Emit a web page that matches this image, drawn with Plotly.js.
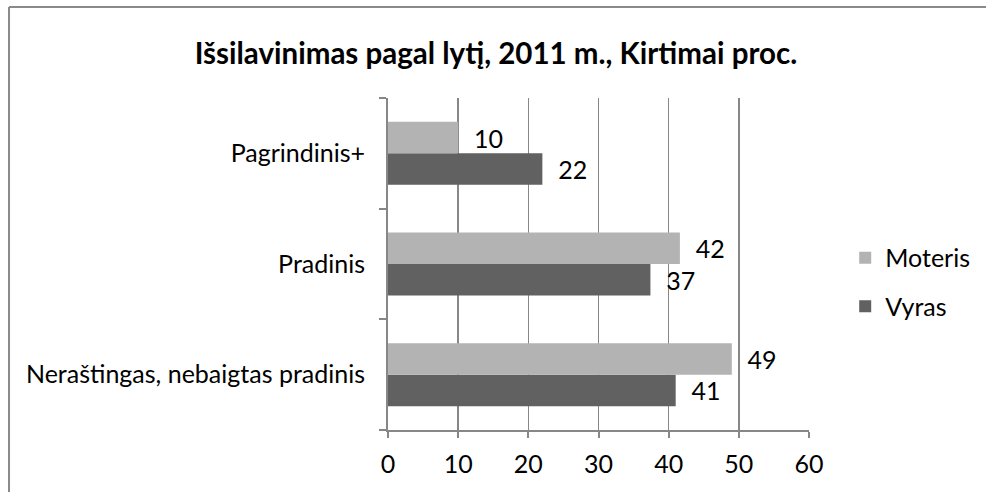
<!DOCTYPE html>
<html>
<head>
<meta charset="utf-8">
<script src="https://cdn.plot.ly/plotly-3.0.1.min.js"></script>
<style>
  html, body { margin: 0; padding: 0; background: #ffffff; overflow: hidden; }
  #chart { width: 986px; height: 492px; }
</style>
</head>
<body>
<div id="chart"></div>
<script>
// Data
var categories = ["Neraštingas, nebaigtas pradinis", "Pradinis", "Pagrindinis+"];
var seriesNames = ["Vyras", "Moteris"];
var vyras = [41, 37.4, 22];
var moteris = [49, 41.6, 10];
var xTicks = [0, 10, 20, 30, 40, 50, 60];

var FONT = "Lato, 'Open Sans', sans-serif";
var pad = "\u00a0\u00a0";

var traces = [
  {
    type: "bar", orientation: "h", name: seriesNames[0],
    y: categories, x: vyras,
    marker: { color: "#616161" },
    text: vyras, texttemplate: pad + "%{x:.0f}", textposition: "outside",
    constraintext: "none", cliponaxis: false,
    textfont: { family: FONT, size: 25, color: "#000000" },
    legendgroup: "v", legendrank: 2, hoverinfo: "x+y"
  },
  {
    type: "bar", orientation: "h", name: seriesNames[1],
    y: categories, x: moteris,
    marker: { color: "#b3b3b3" },
    text: moteris, texttemplate: pad + "%{x:.0f}", textposition: "outside",
    constraintext: "none", cliponaxis: false,
    textfont: { family: FONT, size: 25, color: "#000000" },
    legendgroup: "m", legendrank: 1, hoverinfo: "x+y"
  }
];

var layout = {
  width: 986, height: 492,
  paper_bgcolor: "#ffffff", plot_bgcolor: "#ffffff",
  margin: { l: 388, r: 177, t: 98, b: 62, autoexpand: false },
  font: { family: FONT, size: 25, color: "#000000" },
  title: {
    text: "<b>Išsilavinimas pagal lytį, 2011 m., Kirtimai proc.</b>",
    font: { family: FONT, size: 29.5, color: "#000000" },
    x: 0.503, xanchor: "center", xref: "container",
    y: 0.89, yanchor: "middle", yref: "container"
  },
  barmode: "group", bargap: 0.43, bargroupgap: 0,
  showlegend: true,
  legend: {
    x: 1.086, xanchor: "left", y: 0.446, yanchor: "middle",
    traceorder: "grouped", tracegroupgap: 13,
    font: { family: FONT, size: 25, color: "#000000" },
    bgcolor: "rgba(0,0,0,0)"
  },
  xaxis: {
    range: [0, 60], tickvals: xTicks, ticktext: xTicks.map(String),
    showgrid: true, gridcolor: "#878787", gridwidth: 1.5,
    showline: true, linecolor: "#878787", linewidth: 2,
    ticks: "outside", ticklen: 6, tickcolor: "#878787", tickwidth: 2,
    ticklabelstandoff: 5,
    zeroline: false, fixedrange: true,
    tickfont: { family: FONT, size: 25, color: "#000000" }
  },
  yaxis: {
    type: "category", categoryorder: "array", categoryarray: categories,
    tickson: "boundaries",
    showgrid: false, showline: true, linecolor: "#878787", linewidth: 2,
    ticks: "outside", ticklen: 7, tickcolor: "#878787", tickwidth: 2,
    ticklabelstandoff: 16,
    zeroline: false, fixedrange: true,
    tickfont: { family: FONT, size: 25, color: "#000000" }
  },
  shapes: [
    { type: "line", xref: "paper", yref: "paper", x0: -0.9002, x1: 2, y0: 1.274, y1: 1.274,
      line: { color: "#8a8a8a", width: 2 } },
    { type: "line", xref: "paper", yref: "paper", x0: -0.9002, x1: -0.9002, y0: 1.274, y1: -0.5,
      line: { color: "#8a8a8a", width: 2 } }
  ]
};

Plotly.newPlot("chart", traces, layout, { displayModeBar: false, staticPlot: true });
</script>
</body>
</html>
